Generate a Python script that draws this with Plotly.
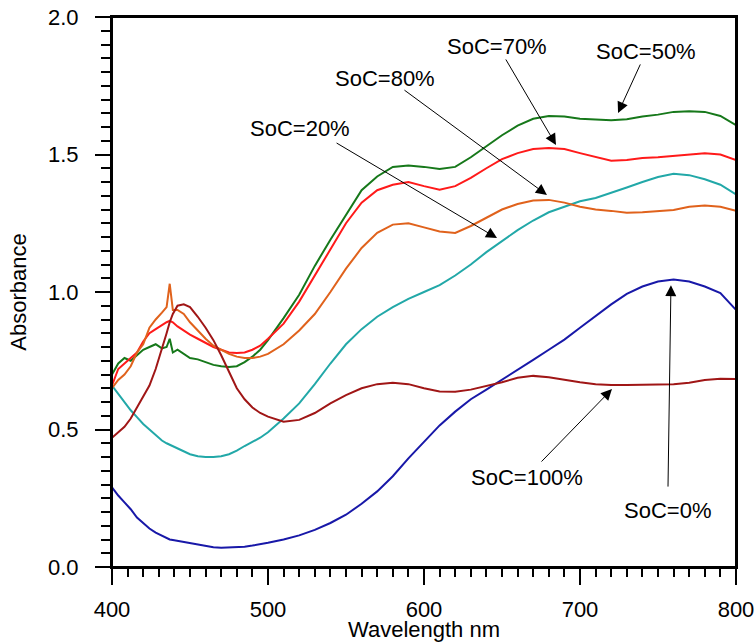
import plotly.graph_objects as go

wavelength = [400, 404, 408, 412, 416, 420, 424, 428, 432, 435, 437, 439, 442, 446, 450,
              455, 460, 465, 470, 475, 480, 485, 490, 495, 500, 510, 520, 530, 540, 550,
              560, 570, 580, 590, 600, 610, 620, 630, 640, 650, 660, 670, 680, 690, 700,
              710, 720, 730, 740, 750, 760, 770, 780, 790, 800]

soc_0 = [0.29, 0.26, 0.235, 0.21, 0.18, 0.16, 0.14, 0.125, 0.115, 0.105, 0.10, 0.098, 0.095, 0.09, 0.085,
         0.08, 0.075, 0.072, 0.07, 0.071, 0.072, 0.074, 0.078, 0.082, 0.088, 0.10, 0.115, 0.135, 0.16, 0.19,
         0.23, 0.275, 0.33, 0.395, 0.455, 0.515, 0.565, 0.61, 0.645, 0.68, 0.716, 0.753, 0.79, 0.827, 0.87,
         0.912, 0.955, 0.993, 1.02, 1.038, 1.045, 1.038, 1.02, 0.996, 0.935]

soc_20 = [0.66, 0.63, 0.60, 0.57, 0.545, 0.52, 0.50, 0.48, 0.46, 0.45, 0.445, 0.44, 0.43, 0.42, 0.41,
          0.403, 0.40, 0.40, 0.403, 0.41, 0.423, 0.44, 0.455, 0.47, 0.49, 0.54, 0.595, 0.665, 0.74, 0.81,
          0.865, 0.91, 0.945, 0.975, 1.0, 1.025, 1.06, 1.10, 1.145, 1.185, 1.225, 1.26, 1.29, 1.31, 1.33,
          1.342, 1.36, 1.38, 1.40, 1.418, 1.43, 1.425, 1.41, 1.39, 1.355]

soc_50 = [0.70, 0.74, 0.76, 0.75, 0.77, 0.79, 0.80, 0.81, 0.795, 0.80, 0.83, 0.78, 0.79, 0.775, 0.76,
          0.755, 0.745, 0.735, 0.73, 0.727, 0.73, 0.745, 0.765, 0.79, 0.825, 0.905, 0.99, 1.095, 1.19, 1.28,
          1.37, 1.42, 1.455, 1.46, 1.455, 1.447, 1.455, 1.49, 1.53, 1.57, 1.605, 1.63, 1.64, 1.638, 1.63,
          1.628, 1.625, 1.628, 1.638, 1.645, 1.655, 1.657, 1.655, 1.64, 1.607]

soc_70 = [0.66, 0.72, 0.74, 0.76, 0.78, 0.82, 0.85, 0.865, 0.88, 0.89, 0.895, 0.89, 0.875, 0.86, 0.845,
          0.83, 0.815, 0.80, 0.79, 0.78, 0.778, 0.78, 0.79, 0.805, 0.83, 0.885, 0.965, 1.06, 1.16, 1.25,
          1.325, 1.37, 1.39, 1.40, 1.385, 1.372, 1.385, 1.415, 1.45, 1.483, 1.505, 1.52, 1.524, 1.52, 1.505,
          1.49, 1.477, 1.48, 1.487, 1.49, 1.495, 1.50, 1.505, 1.50, 1.48]

soc_80 = [0.65, 0.68, 0.70, 0.73, 0.78, 0.81, 0.87, 0.90, 0.925, 0.945, 1.03, 0.935, 0.935, 0.92, 0.89,
          0.86, 0.83, 0.805, 0.79, 0.775, 0.765, 0.76, 0.76, 0.765, 0.775, 0.81, 0.86, 0.92, 1.0, 1.085,
          1.16, 1.215, 1.245, 1.25, 1.235, 1.22, 1.215, 1.24, 1.27, 1.30, 1.32, 1.333, 1.335, 1.325, 1.31,
          1.30, 1.295, 1.288, 1.29, 1.293, 1.298, 1.31, 1.315, 1.31, 1.295]

soc_100 = [0.47, 0.49, 0.51, 0.54, 0.58, 0.62, 0.66, 0.72, 0.79, 0.85, 0.89, 0.92, 0.95, 0.955, 0.945,
           0.91, 0.87, 0.825, 0.77, 0.71, 0.65, 0.61, 0.58, 0.56, 0.547, 0.528, 0.535, 0.56, 0.595, 0.625,
           0.65, 0.665, 0.67, 0.665, 0.65, 0.638, 0.637, 0.645, 0.658, 0.672, 0.688, 0.695, 0.69, 0.68, 0.672,
           0.665, 0.662, 0.662, 0.663, 0.664, 0.665, 0.67, 0.68, 0.685, 0.684]

series_names = ["SoC=0%", "SoC=20%", "SoC=50%", "SoC=70%", "SoC=80%", "SoC=100%"]
series_values = [soc_0, soc_20, soc_50, soc_70, soc_80, soc_100]
series_colors = ["#1818A8", "#22A8A8", "#16781A", "#FF1A1A", "#E0621C", "#A01616"]

# label text, text position, arrow tail, arrow tip (data coordinates)
labels = [
    ("SoC=70%", (646.8, 1.893), (651.9, 1.851), (684.6, 1.535)),
    ("SoC=50%", (742.3, 1.873), (739.1, 1.833), (724.4, 1.651)),
    ("SoC=80%", (575.0, 1.778), (586.5, 1.738), (678.8, 1.353)),
    ("SoC=20%", (520.5, 1.596), (543.0, 1.545), (646.8, 1.196)),
    ("SoC=100%", (666.0, 0.324), (674.4, 0.378), (720.5, 0.647)),
    ("SoC=0%", (756.4, 0.207), (756.4, 0.287), (758.3, 1.025)),
]

FONT = "Liberation Sans, Arial, sans-serif"
FS = 22

fig = go.Figure()
for name, vals, col in zip(series_names, series_values, series_colors):
    fig.add_trace(go.Scatter(x=wavelength, y=vals, mode="lines", name=name,
                             line=dict(color=col, width=2)))

annotations = []
for text, tpos, tail, tip in labels:
    annotations.append(dict(x=tpos[0], y=tpos[1], xref="x", yref="y", text=text,
                            showarrow=False, font=dict(family=FONT, size=FS, color="black"),
                            xanchor="center", yanchor="middle"))
    annotations.append(dict(x=tip[0], y=tip[1], xref="x", yref="y", ax=tail[0], ay=tail[1],
                            axref="x", ayref="y", text="", showarrow=True, arrowhead=2,
                            arrowsize=2.2, arrowwidth=1, arrowcolor="black", standoff=0))

fig.update_layout(
    width=755, height=642,
    margin=dict(l=112, r=19, t=17, b=75),
    paper_bgcolor="white", plot_bgcolor="white",
    showlegend=False,
    font=dict(family=FONT, size=FS, color="black"),
    annotations=annotations,
    shapes=[dict(type="rect", xref="paper", yref="paper", x0=0, x1=1, y0=0, y1=1,
                 line=dict(color="black", width=2), fillcolor="rgba(0,0,0,0)", layer="above")],
)
fig.update_xaxes(
    range=[400, 800], dtick=100, tick0=400, showgrid=False, zeroline=False, automargin=False,
    showline=True, linecolor="black", linewidth=2, mirror=True,
    ticks="outside", ticklen=16, tickwidth=2, tickcolor="black",
    minor=dict(dtick=10, ticks="outside", ticklen=8, tickwidth=2, tickcolor="black", showgrid=False),
    title=dict(text="Wavelength nm", font=dict(family=FONT, size=FS), standoff=14),
    ticklabelstandoff=6, ticklabeloverflow="allow",
)
fig.update_yaxes(
    range=[0, 2.0], dtick=0.5, tick0=0, tickformat=".1f", showgrid=False, zeroline=False, automargin=False,
    showline=True, linecolor="black", linewidth=2, mirror=True,
    ticks="outside", ticklen=15, tickwidth=2, tickcolor="black",
    minor=dict(dtick=0.05, ticks="outside", ticklen=9, tickwidth=2, tickcolor="black", showgrid=False),
    title=dict(text="Absorbance", font=dict(family=FONT, size=FS), standoff=15),
    ticklabelstandoff=12, ticklabeloverflow="allow",
)

fig.write_html("out.html", config={"displayModeBar": False},
               post_script="document.body.style.margin='0';")
